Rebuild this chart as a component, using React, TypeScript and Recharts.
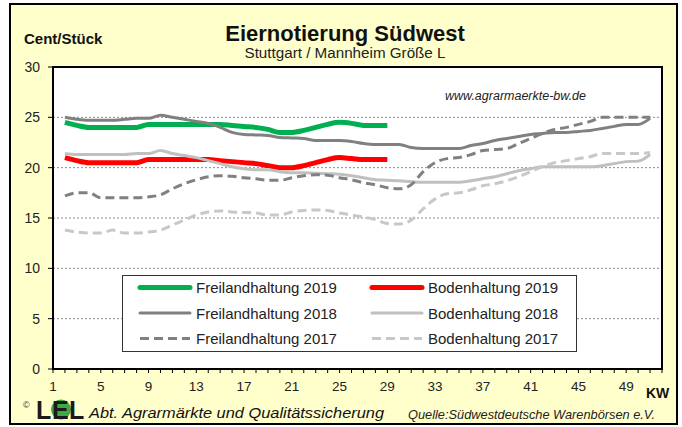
import React from "react";
import { LineChart, Line, XAxis, YAxis, CartesianGrid } from "recharts";

// Calendar weeks (KW)
const weeks = [
  1, 2, 3, 4, 5, 6, 7, 8, 9, 10, 11, 12, 13, 14, 15, 16, 17, 18, 19, 20, 21, 22, 23, 24, 25, 26,
  27, 28, 29, 30, 31, 32, 33, 34, 35, 36, 37, 38, 39, 40, 41, 42, 43, 44, 45, 46, 47, 48, 49, 50, 51, 52,
];
const xTickLabels = [1, 5, 9, 13, 17, 21, 25, 29, 33, 37, 41, 45, 49];
const yTicks = [0, 5, 10, 15, 20, 25, 30];

// values in Cent/Stück, index 0 = KW 1
const freiland2019 = [
  null, 24.5, 24.2, 24.0, 24.0, 24.0, 24.0, 24.0, 24.3, 24.3, 24.3, 24.3, 24.3, 24.3, 24.3, 24.2, 24.1,
  24.0, 23.8, 23.5, 23.5, 23.7, 24.0, 24.3, 24.5, 24.4, 24.2, 24.2, 24.2,
];
const boden2019 = [
  null, 21.0, 20.7, 20.5, 20.5, 20.5, 20.5, 20.5, 20.8, 20.8, 20.8, 20.8, 20.8, 20.8, 20.7, 20.6, 20.5,
  20.4, 20.2, 20.0, 20.0, 20.2, 20.5, 20.8, 21.0, 20.9, 20.8, 20.8, 20.8,
];
const freiland2018 = [
  null, 25.0, 24.8, 24.7, 24.7, 24.7, 24.8, 24.9, 24.9, 25.2, 25.0, 24.8, 24.6, 24.4, 24.0, 23.5, 23.3,
  23.25, 23.2, 23.0, 22.95, 22.9, 22.7, 22.7, 22.7, 22.6, 22.4, 22.3, 22.3, 22.3, 22.0, 21.9, 21.9, 21.9,
  21.9, 22.2, 22.4, 22.7, 22.9, 23.1, 23.3, 23.4, 23.5, 23.5, 23.6, 23.7, 23.9, 24.1, 24.3, 24.3, 24.9,
];
const boden2018 = [
  null, 21.4, 21.3, 21.3, 21.3, 21.3, 21.3, 21.4, 21.4, 21.7, 21.4, 21.2, 21.0, 20.7, 20.4, 20.1, 19.9,
  19.8, 19.8, 19.6, 19.5, 19.5, 19.45, 19.4, 19.35, 19.2, 19.0, 18.8, 18.75, 18.7, 18.6, 18.55, 18.55,
  18.55, 18.55, 18.7, 18.9, 19.1, 19.4, 19.7, 19.9, 20.1, 20.1, 20.1, 20.1, 20.1, 20.2, 20.4, 20.6,
  20.65, 21.3,
];
const freiland2017 = [
  null, 17.2, 17.5, 17.5, 17.0, 17.0, 17.0, 17.0, 17.1, 17.3, 17.9, 18.4, 18.8, 19.1, 19.2, 19.15, 19.0,
  18.9, 18.75, 18.75, 19.0, 19.2, 19.3, 19.25, 19.0, 18.8, 18.5, 18.3, 18.0, 17.9, 18.3, 19.6, 20.5,
  20.9, 21.0, 21.3, 21.7, 21.8, 21.9, 22.4, 22.9, 23.4, 23.8, 24.0, 24.3, 24.6, 25.0, 25.0, 25.0, 25.0,
  25.0,
];
const boden2017 = [
  null, 13.8, 13.6, 13.5, 13.5, 13.8, 13.5, 13.5, 13.6, 13.8, 14.3, 14.8, 15.3, 15.6, 15.7, 15.6, 15.55,
  15.5, 15.3, 15.3, 15.6, 15.75, 15.8, 15.75, 15.5, 15.3, 15.1, 14.85, 14.45, 14.4, 14.8, 15.9, 16.9,
  17.4, 17.5, 17.8, 18.2, 18.4, 18.7, 19.1, 19.6, 20.1, 20.5, 20.7, 20.9, 21.1, 21.4, 21.4, 21.4, 21.4,
  21.5,
];

const seriesNames = [
  "Freilandhaltung 2019",
  "Bodenhaltung 2019",
  "Freilandhaltung 2018",
  "Bodenhaltung 2018",
  "Freilandhaltung 2017",
  "Bodenhaltung 2017",
];
const seriesValues = [freiland2019, boden2019, freiland2018, boden2018, freiland2017, boden2017];
const seriesKeys = ["f19", "b19", "f18", "b18", "f17", "b17"];
const seriesStyles = [
  { color: "#00B050", width: 5, dash: undefined },
  { color: "#FF0000", width: 5, dash: undefined },
  { color: "#808080", width: 3, dash: undefined },
  { color: "#C0C0C0", width: 3, dash: undefined },
  { color: "#808080", width: 3, dash: "9 5" },
  { color: "#C8C8C8", width: 3, dash: "9 5" },
];

const rows = weeks.map((w, i) => {
  const r: any = { week: w };
  seriesKeys.forEach((k, s) => {
    const v = seriesValues[s][i];
    r[k] = v === undefined ? null : v;
  });
  return r;
});

const FONT = "'Liberation Sans', Arial, sans-serif";

const XTick = (props: any) => {
  const { x, y, payload } = props;
  if (!xTickLabels.includes(payload.value)) return null;
  return (
    <text x={x} y={y} dy={16} textAnchor="middle" fontSize={13.5} fill="#222" fontFamily={FONT}>
      {payload.value}
    </text>
  );
};

const Legend = () => {
  const rowsY = [287.5, 313, 338.5];
  const colLine = [140, 372];
  return (
    <svg
      width={682}
      height={427}
      style={{ position: "absolute", left: 0, top: 0, pointerEvents: "none" }}
    >
      <rect x={122.5} y={275.5} width={454} height={76} fill="#fff" stroke="#333" strokeWidth={1} />
      {seriesNames.map((name, i) => {
        const col = i % 2;
        const row = Math.floor(i / 2);
        const st = seriesStyles[i];
        const y = rowsY[row];
        const x0 = colLine[col];
        return (
          <g key={name}>
            <line
              x1={x0}
              x2={x0 + 50}
              y1={y}
              y2={y}
              stroke={st.color}
              strokeWidth={st.width}
              strokeDasharray={st.dash}
              strokeLinecap={st.dash ? "butt" : "round"}
            />
            <text x={x0 + 56} y={y + 5.5} fontSize={15} fill="#222" fontFamily={FONT}>
              {name}
            </text>
          </g>
        );
      })}
    </svg>
  );
};

const Decorations = () => (
  <svg
    width={682}
    height={427}
    style={{ position: "absolute", left: 0, top: 0, pointerEvents: "none" }}
  >
    <text x={24} y={44} fontSize={15} fontWeight="bold" fill="#111" fontFamily={FONT}>
      Cent/Stück
    </text>
    <text x={345} y={41} fontSize={22} fontWeight="bold" fill="#111" textAnchor="middle" fontFamily={FONT}>
      Eiernotierung Südwest
    </text>
    <text
      x={345}
      y={58}
      fontSize={14}
      fill="#222"
      textAnchor="middle"
      fontFamily={FONT}
      textLength={201}
      lengthAdjust="spacingAndGlyphs"
    >
      Stuttgart / Mannheim Größe L
    </text>
    <text x={445} y={100} fontSize={12.5} fontStyle="italic" fill="#222" fontFamily={FONT}>
      www.agrarmaerkte-bw.de
    </text>
    <text x={646} y={398} fontSize={14} fontWeight="bold" fill="#111" fontFamily={FONT}>
      KW
    </text>
    {/* LEL logo */}
    <text x={23} y={408} fontSize={9} fill="#333" fontFamily={FONT}>
      ©
    </text>
    <text x={36} y={419} fontSize={25} fontWeight="bold" fill="#1a1a1a" fontFamily={FONT}>
      L
    </text>
    <circle cx={61} cy={409.5} r={10} fill="#3DA845" />
    <text x={52} y={419} fontSize={25} fontWeight="bold" fill="#1a1a1a" fontFamily={FONT}>
      E
    </text>
    <text x={69} y={419} fontSize={25} fontWeight="bold" fill="#1a1a1a" fontFamily={FONT}>
      L
    </text>
    <text
      x={89}
      y={418}
      fontSize={15}
      fontStyle="italic"
      fill="#111"
      fontFamily={FONT}
      textLength={295}
      lengthAdjust="spacingAndGlyphs"
    >
      Abt. Agrarmärkte und Qualitätssicherung
    </text>
    <text
      x={408}
      y={419}
      fontSize={13.5}
      fontStyle="italic"
      fill="#222"
      fontFamily={FONT}
      textLength={247}
      lengthAdjust="spacingAndGlyphs"
    >
      Quelle:Südwestdeutsche Warenbörsen e.V.
    </text>
  </svg>
);

export default function App() {
  return (
    <div
      style={{
        position: "absolute",
        left: 0,
        top: 0,
        width: 682,
        height: 427,
        background: "#ffffff",
        fontFamily: FONT,
      }}
    >
      <div
        style={{
          position: "absolute",
          left: 9,
          top: 3,
          width: 669,
          height: 422,
          boxSizing: "border-box",
          border: "2px solid #000",
          background: "#FFFFCC",
        }}
      />
      <div style={{ position: "absolute", left: 0, top: 0 }}>
        <LineChart
          width={682}
          height={427}
          data={rows}
          margin={{ top: 67, right: 20, bottom: 28, left: 8 }}
        >
          <CartesianGrid vertical={false} stroke="#8a8a8a" strokeDasharray="2 2" fill="#ffffff" />
          <XAxis
            dataKey="week"
            interval={0}
            tick={<XTick />}
            tickSize={4}
            tickLine={{ stroke: "#000" }}
            axisLine={{ stroke: "#000", strokeWidth: 2 }}
            height={30}
          />
          <YAxis
            domain={[0, 30]}
            ticks={yTicks}
            width={45}
            tickSize={5}
            tickMargin={8}
            tick={{ fill: "#222", fontSize: 14, fontFamily: FONT }}
            tickLine={{ stroke: "#000" }}
            axisLine={{ stroke: "#000", strokeWidth: 2 }}
          />
          {seriesKeys.map((k, i) => (
            <Line
              key={k}
              dataKey={k}
              name={seriesNames[i]}
              type="monotone"
              stroke={seriesStyles[i].color}
              strokeWidth={seriesStyles[i].width}
              strokeDasharray={seriesStyles[i].dash}
              dot={false}
              activeDot={false}
              connectNulls={false}
              isAnimationActive={false}
            />
          ))}
        </LineChart>
      </div>
      <div
        style={{
          position: "absolute",
          left: 52,
          top: 66,
          width: 611,
          height: 304,
          boxSizing: "border-box",
          border: "2px solid #000",
          pointerEvents: "none",
        }}
      />
      <Legend />
      <Decorations />
    </div>
  );
}
